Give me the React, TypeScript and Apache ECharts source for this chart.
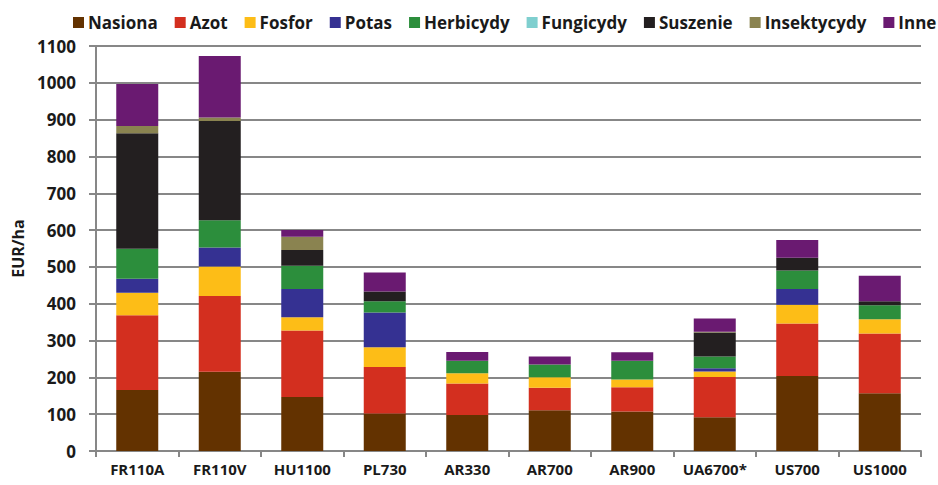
import React, { useEffect, useRef } from "react";
import * as echarts from "echarts";

const categories = ["FR110A", "FR110V", "HU1100", "PL730", "AR330", "AR700", "AR900", "UA6700*", "US700", "US1000"];
const seriesNames = ["Nasiona", "Azot", "Fosfor", "Potas", "Herbicydy", "Fungicydy", "Suszenie", "Insektycydy", "Inne"];
const nasiona = [166, 215, 147, 102, 98, 111, 107, 92, 204, 157];
const azot = [203, 206, 180, 126, 85, 61, 66, 109, 142, 162];
const fosfor = [61, 80, 36, 54, 28, 28, 21, 15, 51, 39];
const potas = [38, 52, 77, 94, 0, 0, 0, 9, 43, 0];
const herbicydy = [81, 74, 63, 31, 34, 35, 51, 32, 50, 38];
const fungicydy = [0, 0, 0, 0, 0, 0, 0, 0, 0, 0];
const suszenie = [314, 269, 43, 26, 0, 0, 0, 65, 35, 11];
const insektycydy = [20, 10, 36, 0, 0, 0, 0, 2, 0, 0];
const inne = [114, 167, 18, 52, 24, 22, 23, 36, 48, 69];
const colors = ["#633200", "#D32F1F", "#FDBD17", "#353192", "#2C8E3C", "#7FCFCF", "#231F20", "#8A8350", "#6A1A71"];
const yTicks = { min: 0, max: 1100, interval: 100 };

const FONT = "'Open Sans', 'DejaVu Sans', sans-serif";

export default function App() {
  const ref = useRef<HTMLDivElement>(null);
  useEffect(() => {
    if (!ref.current) return;
    const chart = echarts.init(ref.current, null, { renderer: "svg" });
    const values = [nasiona, azot, fosfor, potas, herbicydy, fungicydy, suszenie, insektycydy, inne];
    chart.setOption({
      animation: false,
      color: colors,
      textStyle: { fontFamily: FONT },
      legend: {
        top: 9,
        left: 68,
        width: 880,
        itemWidth: 11,
        itemHeight: 11,
        itemGap: 17,
        icon: "rect",
        textStyle: { fontFamily: FONT, fontWeight: "bold", fontSize: 17, color: "#1a1a1a", padding: [0, 0, 0, -1] },
        data: seriesNames,
      },
      grid: { left: 96, right: 17, top: 46, bottom: 34 },
      xAxis: {
        type: "category",
        data: categories,
        axisLine: { lineStyle: { color: "#878787", width: 2 } },
        axisTick: { show: true, length: 6, interval: 0, lineStyle: { color: "#878787", width: 2 } },
        axisLabel: { interval: 0, fontFamily: FONT, fontWeight: "bold", fontSize: 15, color: "#1a1a1a", margin: 10 },
      },
      yAxis: {
        type: "value",
        min: yTicks.min,
        max: yTicks.max,
        interval: yTicks.interval,
        name: "EUR/ha",
        nameLocation: "middle",
        nameGap: 66,
        nameRotate: 90,
        nameTextStyle: { fontFamily: FONT, fontWeight: "bold", fontSize: 16, color: "#1a1a1a" },
        axisLine: { show: true, lineStyle: { color: "#878787", width: 2 } },
        axisTick: { show: true, length: 7, lineStyle: { color: "#878787", width: 2 } },
        splitLine: { lineStyle: { color: "#878787", width: 2 } },
        axisLabel: { fontFamily: FONT, fontWeight: "bold", fontSize: 17, color: "#1a1a1a", margin: 20, formatter: (v: number) => String(v) },
      },
      series: seriesNames.map((name, i) => ({
        name,
        type: "bar",
        stack: "total",
        barWidth: 42,
        data: values[i],
        itemStyle: { color: colors[i] },
      })),
    });
    return () => chart.dispose();
  }, []);
  return <div ref={ref} style={{ position: "absolute", left: 0, top: 0, width: 938, height: 485 }} />;
}
